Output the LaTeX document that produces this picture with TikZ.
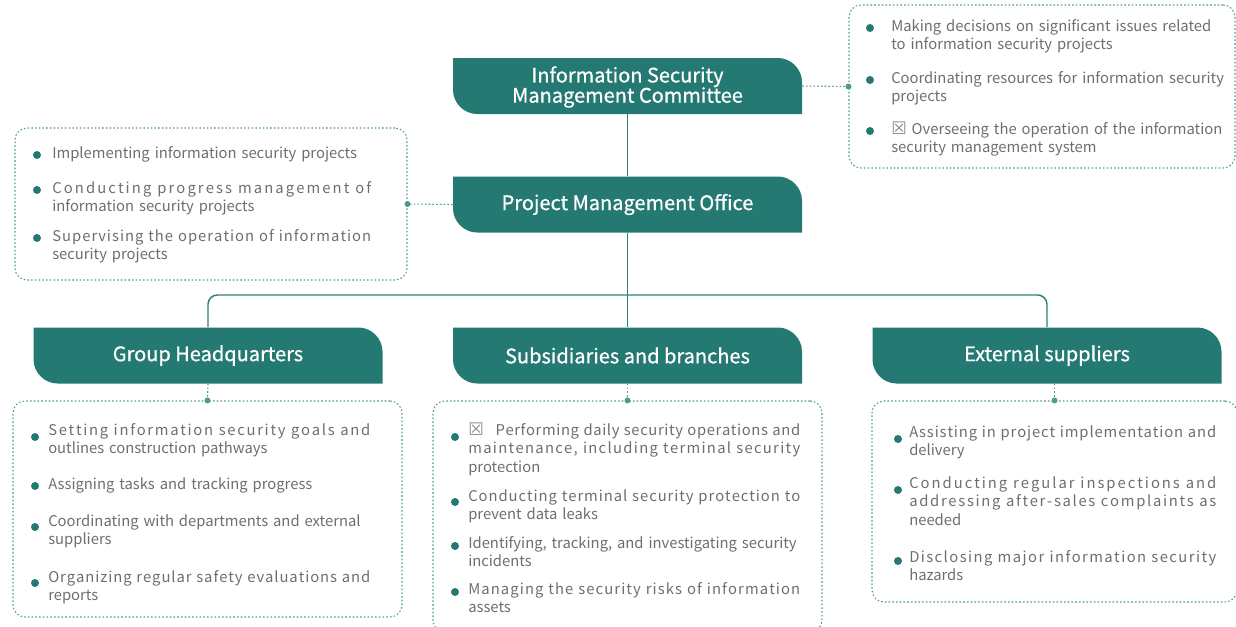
\documentclass[tikz,border=0pt]{standalone}
\usepackage{fontspec}
\setmainfont{Noto Sans CJK SC}
\newfontfamily\hfont{Noto Sans CJK SC}[FakeBold=0.7]
\newfontfamily\symfont{DejaVu Sans}
\usetikzlibrary{calc}
\definecolor{hdr}{HTML}{247A72}
\definecolor{txt}{HTML}{6E6E6E}
\definecolor{dotc}{HTML}{4E9A93}
\definecolor{conn}{HTML}{2E8178}
\ExplSyntaxOn
\seq_new:N \l_rs_words_seq
\bool_new:N \l_rs_first_bool
\cs_new_protected:Npn \rs_word:n #1
  { \tl_map_inline:nn {#1} { ##1 \hskip 0pt plus 1fil \relax } \unskip }
\NewDocumentCommand \jl { m m }
  {
    \seq_set_split:Nnn \l_rs_words_seq { ~ } {#2}
    \makebox[#1][s]{
      \bool_set_true:N \l_rs_first_bool
      \seq_map_function:NN \l_rs_words_seq \rs_wordsep:n
    }
  }
\cs_new_protected:Npn \rs_wordsep:n #1
  {
    \bool_if:NF \l_rs_first_bool { \hskip 0.26em plus 1fil \relax }
    \bool_set_false:N \l_rs_first_bool
    \rs_word:n {#1}
  }
\ExplSyntaxOff
\newcommand\xb{{\symfont\fontsize{13}{13}\selectfont\color{txt!80}☒}}
\begin{document}
\begin{tikzpicture}[x=0.75pt,y=-0.75pt,
 hdrbox/.style={minimum width=261.75pt, minimum height=42pt, inner sep=0pt, text=white,
   font=\hfont\fontsize{15}{15.75}\selectfont, align=center,
   path picture={
     \fill[hdr] (path picture bounding box.north west)
       -- ($(path picture bounding box.north east)+(-24,0)$)
       .. controls +(13,0) and +(0,-13) .. ($(path picture bounding box.north east)+(0,24)$)
       -- (path picture bounding box.south east)
       -- ($(path picture bounding box.south west)+(24,0)$)
       .. controls +(-13,0) and +(0,13) .. ($(path picture bounding box.south west)+(0,-24)$)
       -- cycle;}},
 dbox/.style={draw=dotc, line width=0.8pt, dash pattern=on 1.2pt off 1.6pt, rounded corners=9pt, inner sep=0pt},
 itm/.style={anchor=base west, inner sep=0pt, text=txt, align=left, text width=300pt,
   font=\fontsize{11.1}{13.9}\selectfont},
 lnk/.style={draw=conn, line width=1.1pt},
 dlnk/.style={draw=dotc, line width=0.8pt, dash pattern=on 1.2pt off 1.6pt},
]
\clip (0,0) rectangle (1236,626);

% header nodes
\node[hdrbox] (ismc) at (627.5,86) {\raisebox{-12.5pt}[0pt][0pt]{\shortstack{Information Security\\[-3pt]Management Committee}}};
\node[hdrbox] (pmo) at (627.5,204.5) {Project Management Office};
\node[hdrbox] (gh) at (208,355.5) {Group Headquarters};
\node[hdrbox] (subs) at (627.5,355.5) {Subsidiaries and branches};
\node[hdrbox] (ext) at (1047,355.5) {External suppliers};

% dotted boxes
\node[dbox, minimum width=289.5pt, minimum height=122.25pt] (trb) at (1042,86.5) {};
\node[dbox, minimum width=294pt, minimum height=114pt] (lb) at (211,204) {};
\node[dbox, minimum width=291.75pt, minimum height=162pt] (ghb) at (207.5,509) {};
\node[dbox, minimum width=291.75pt, minimum height=173.25pt] (subsb) at (627.5,516.5) {};
\node[dbox, minimum width=273.75pt, minimum height=150.75pt] (extb) at (1054.5,501.5) {};

% connectors
\draw[lnk] (ismc.south) -- (pmo.north);
\draw[lnk] (pmo.south) -- (subs.north);
\coordinate (bar) at (627.5,295);
\draw[lnk, rounded corners=7pt] (gh.north) |- (bar) -| (ext.north);

\draw[dlnk] (ismc.east) -- (trb.west);
\fill[dotc] (trb.west) circle (3);
\draw[dlnk] (pmo.west) -- (lb.east);
\fill[dotc] (lb.east) circle (3);
\draw[dlnk] (gh.south) -- (ghb.north);
\fill[dotc] (ghb.north) circle (3);
\draw[dlnk] (subs.south) -- (subsb.north);
\fill[dotc] (subsb.north) circle (3);
\draw[dlnk] (extb.north |- ext.south) -- (extb.north);
\fill[dotc] (extb.north) circle (3);

% items: top right
\node[itm] (tr1) at (891,31) {Making decisions on significant issues related\\to information security projects};
\node[itm] (tr2) at (891,83) {Coordinating resources for information security\\projects};
\node[itm] (tr3) at (891,134) {\xb{} Overseeing the operation of the information\\security management system};
% left
\node[itm] (l1) at (52,158) {Implementing information security projects};
\node[itm] (l2) at (52,193) {\jl{239.25pt}{Conducting progress management of}\\information security projects};
\node[itm] (l3) at (52,241) {\jl{239.25pt}{Supervising the operation of information}\\security projects};
% group headquarters
\node[itm] (g1) at (48,435) {\jl{241.5pt}{Setting information security goals and}\\outlines construction pathways};
\node[itm] (g2) at (48,489) {Assigning tasks and tracking progress};
\node[itm] (g3) at (48,526) {Coordinating with departments and external\\suppliers};
\node[itm] (g4) at (48,582) {\jl{241.5pt}{Organizing regular safety evaluations and}\\reports};
% subsidiaries
\node[itm] (s1) at (468,435) {\jl{249pt}{\xb\ \ Performing daily security operations and}\\\jl{249pt}{maintenance, including terminal security}\\protection};
\node[itm] (s2) at (468,501) {\jl{249pt}{Conducting terminal security protection to}\\prevent data leaks};
\node[itm] (s3) at (468,548) {Identifying, tracking, and investigating security\\incidents};
\node[itm] (s4) at (468,594) {\jl{249pt}{Managing the security risks of information}\\assets};
% external
\node[itm] (e1) at (909,437) {\jl{230.25pt}{Assisting in project implementation and}\\delivery};
\node[itm] (e2) at (909,488) {\jl{230.25pt}{Conducting regular inspections and}\\\jl{230.25pt}{addressing after-sales complaints as}\\needed};
\node[itm] (e3) at (909,562) {\jl{230.25pt}{Disclosing major information security}\\hazards};

% bullets
\foreach \x/\y in {870/28, 870/80, 870/131, 37/155, 37/190, 37/238,
  35/437, 35/486, 35/527, 35/583, 455/437, 455/502, 455/546, 455/592,
  898/439, 898/490, 898/561}
  \fill[hdr] (\x,\y) circle (4);
\end{tikzpicture}
\end{document}
